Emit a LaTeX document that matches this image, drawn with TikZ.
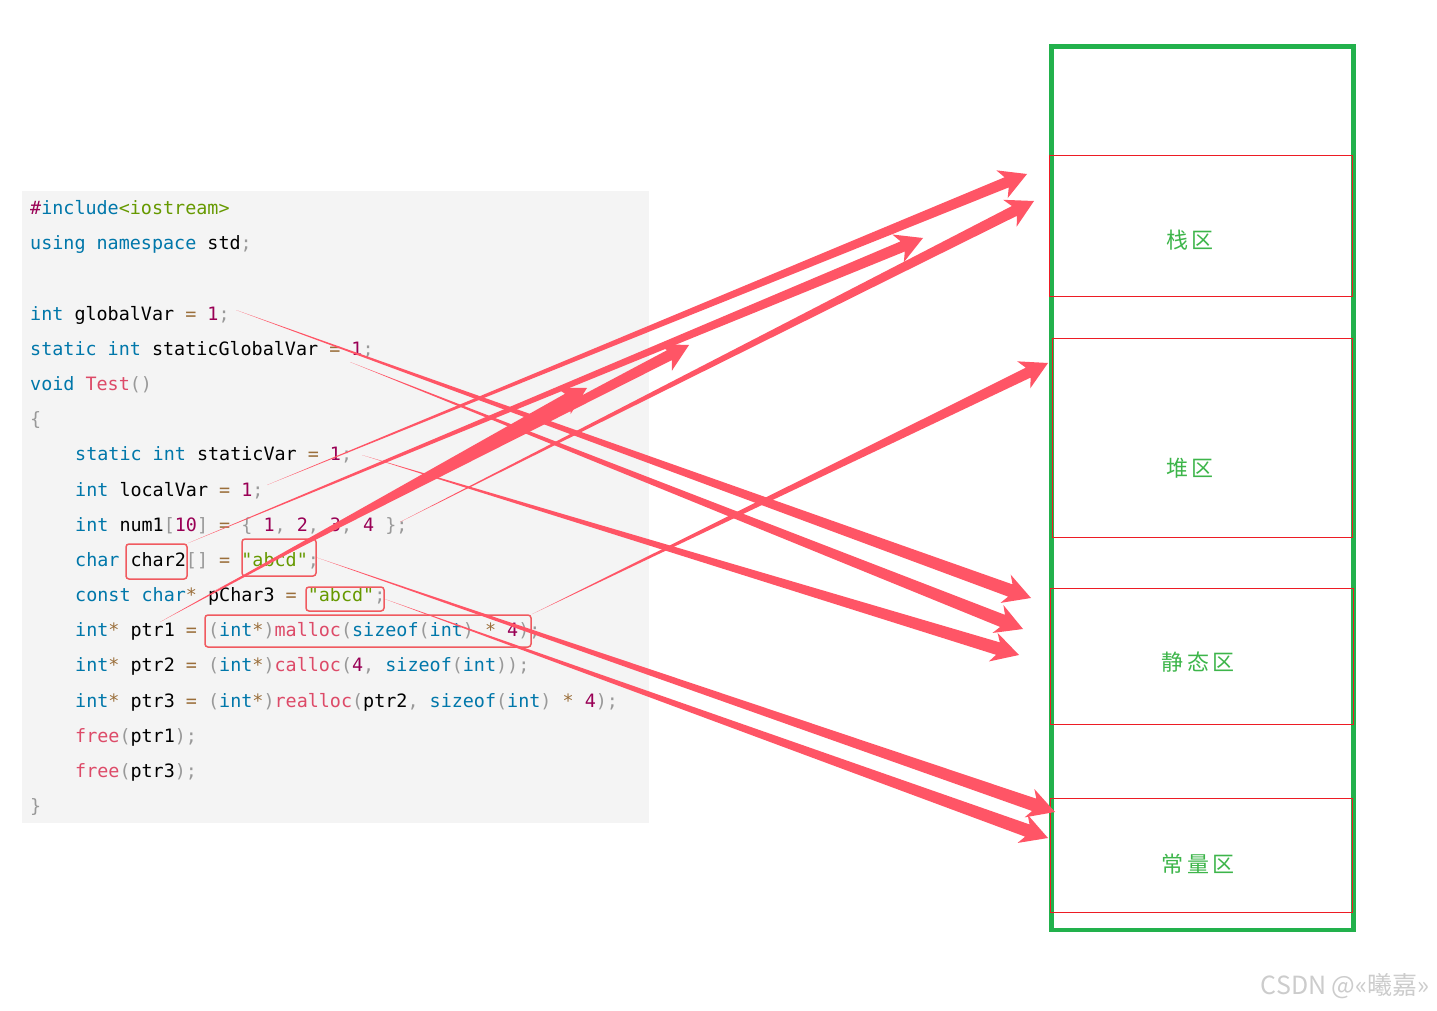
\documentclass[tikz,border=0pt]{standalone}
\usepackage{fontspec}
\setmonofont{DejaVu Sans Mono}
\newfontfamily\cjk{Noto Sans CJK SC}
\usetikzlibrary{calc, positioning}

\definecolor{kwblue}{HTML}{0077AA}
\definecolor{fnred}{HTML}{DD4A68}
\definecolor{numpurple}{HTML}{990055}
\definecolor{opbrown}{HTML}{9A6E3A}
\definecolor{pugray}{HTML}{999999}
\definecolor{strgreen}{HTML}{669900}
\definecolor{codebg}{HTML}{F4F4F4}
\definecolor{arrowred}{HTML}{FF5566}
\definecolor{boxred}{HTML}{F05A5F}
\definecolor{memgreen}{HTML}{22B14C}
\definecolor{linered}{HTML}{ED1C24}
\definecolor{labelgreen}{HTML}{3DB54A}

% 语法高亮
\newcommand{\ckw}[1]{\textcolor{kwblue}{#1}}
\newcommand{\cfn}[1]{\textcolor{fnred}{#1}}
\newcommand{\cnum}[1]{\textcolor{numpurple}{#1}}
\newcommand{\cop}[1]{\textcolor{opbrown}{#1}}
\newcommand{\cpu}[1]{\textcolor{pugray}{#1}}
\newcommand{\cstr}[1]{\textcolor{strgreen}{#1}}

% 渐粗箭头: [杆半宽]{起点}{终点}
\newcommand{\taper}[3][5.5pt]{%
  \coordinate (tn) at ($(#3)!22pt!(#2)$);
  \coordinate (tb) at ($(#3)!27pt!(#2)$);
  \fill[arrowred] (#2) -- ($(tn)!#1!90:(#3)$) -- ($(tb)!15pt!90:(#3)$) -- (#3)
    -- ($(tb)!15pt!-90:(#3)$) -- ($(tn)!#1!-90:(#3)$) -- cycle;
}

\begin{document}
\begin{tikzpicture}[x=1pt, y=-1pt,
    codeline/.style={anchor=base west, inner sep=0pt, font=\ttfamily\fontsize{18.4}{22}\selectfont},
    hlbox/.style={draw=boxred, line width=1.5pt, rounded corners=3pt, inner sep=0pt},
    memline/.style={draw=linered, line width=1pt},
    memlabel/.style={font=\cjk\fontsize{22}{26}\selectfont, text=labelgreen}]
    \useasboundingbox (0,0) rectangle (1437,1011);

    % 代码区
    \fill[codebg] (22,191) rectangle (649,823);
    \node[codeline] (l1) at (30,214.5) {\cnum{\#}\ckw{include}\cstr{<iostream>}};
    \node[codeline] (l2) at (30,249.7) {\ckw{using} \ckw{namespace} std\cpu{;}};
    \node[codeline] (l4) at (30,320) {\ckw{int} globalVar \cop{=} \cnum{1}\cpu{;}};
    \node[codeline] (l5) at (30,355.2) {\ckw{static} \ckw{int} staticGlobalVar \cop{=} \cnum{1}\cpu{;}};
    \node[codeline] (l6) at (30,390.4) {\ckw{void} \cfn{Test}\cpu{()}};
    \node[codeline] (l7) at (30,425.6) {\cpu{\{}};
    \node[codeline] (l8) at (75,460.8) {\ckw{static} \ckw{int} staticVar \cop{=} \cnum{1}\cpu{;}};
    \node[codeline] (l9) at (75,496) {\ckw{int} localVar \cop{=} \cnum{1}\cpu{;}};
    \node[codeline] (l10) at (75,531.1) {\ckw{int} num1\cpu{[}\cnum{10}\cpu{]} \cop{=} \cpu{\{} \cnum{1}\cpu{,} \cnum{2}\cpu{,} \cnum{3}\cpu{,} \cnum{4} \cpu{\};}};
    \node[codeline] (l11) at (75,566.3) {\ckw{char} char2\cpu{[]} \cop{=} \cstr{"abcd"}\cpu{;}};
    \node[codeline] (l12) at (75,601.5) {\ckw{const} \ckw{char}\cop{*} pChar3 \cop{=} \cstr{"abcd"}\cpu{;}};
    \node[codeline] (l13) at (75,636.7) {\ckw{int}\cop{*} ptr1 \cop{=} \cpu{(}\ckw{int}\cop{*}\cpu{)}\cfn{malloc}\cpu{(}\ckw{sizeof}\cpu{(}\ckw{int}\cpu{)} \cop{*} \cnum{4}\cpu{);}};
    \node[codeline] (l14) at (75,671.9) {\ckw{int}\cop{*} ptr2 \cop{=} \cpu{(}\ckw{int}\cop{*}\cpu{)}\cfn{calloc}\cpu{(}\cnum{4}\cpu{,} \ckw{sizeof}\cpu{(}\ckw{int}\cpu{));}};
    \node[codeline] (l15) at (75,707.1) {\ckw{int}\cop{*} ptr3 \cop{=} \cpu{(}\ckw{int}\cop{*}\cpu{)}\cfn{realloc}\cpu{(}ptr2\cpu{,} \ckw{sizeof}\cpu{(}\ckw{int}\cpu{)} \cop{*} \cnum{4}\cpu{);}};
    \node[codeline] (l16) at (75,742.3) {\cfn{free}\cpu{(}ptr1\cpu{);}};
    \node[codeline] (l17) at (75,777.5) {\cfn{free}\cpu{(}ptr3\cpu{);}};
    \node[codeline] (l18) at (30,812.6) {\cpu{\}}};

    % 标记框
    \node[hlbox, minimum width=61pt, minimum height=35pt] (bchar2) at (156.5,561.5) {};
    \node[hlbox, minimum width=74pt, minimum height=37pt] (babcd2) at (279,557.5) {};
    \node[hlbox, minimum width=78pt, minimum height=24pt] (babcd3) at (345,599) {};
    \node[hlbox, minimum width=326pt, minimum height=32pt] (bmalloc) at (368,631) {};

    % 内存分区
    \draw[memgreen, line width=4.5pt] (1051.5,46.5) rectangle (1353.5,930);
    \draw[memline] (1049.5,155.5) rectangle (1352.5,296.5);
    \draw[memline] (1052.5,338.5) rectangle (1352.5,537.5);
    \draw[memline] (1050,588.5) rectangle (1353,724);
    \draw[memline] (1050,798.5) rectangle (1352,912.5);
    \node[memlabel] (stack) at (1190,240) {栈\,区};
    \node[memlabel] (heap) at (1190,468) {堆\,区};
    \node[memlabel] (static) at (1198,662) {静\,态\,区};
    \node[memlabel] (const) at (1198,864) {常\,量\,区};

    % 箭头端点
    \coordinate (gvS) at (236,310);   \coordinate (gvE) at (1031,598);
    \coordinate (sgvS) at (350,362);  \coordinate (sgvE) at (1023,629);
    \coordinate (svS) at (362,455);   \coordinate (svE) at (1019,655);
    \coordinate (lvS) at (267,485);   \coordinate (lvE) at (1027,174);
    \coordinate (n1S) at (400,522);   \coordinate (n1E) at (1034,201);
    \coordinate (pc3S) at (212,592);  \coordinate (pc3E) at (689,345);
    \coordinate (p1S) at (160,622);   \coordinate (p1E) at (587,388);
    \coordinate (c2E) at (923,238);
    \coordinate (mlE) at (1048,363);
    \coordinate (ab2E) at (1055,812);
    \coordinate (ab3E) at (1048,838);

    % 箭头
    \taper[6.5pt]{gvS}{gvE}
    \taper[6.5pt]{sgvS}{sgvE}
    \taper[6.5pt]{svS}{svE}
    \taper{lvS}{lvE}
    \taper{bchar2.north east}{c2E}
    \taper{n1S}{n1E}
    \taper{pc3S}{pc3E}
    \taper{p1S}{p1E}
    \taper{bmalloc.north east}{mlE}
    \taper[6.5pt]{babcd2.east}{ab2E}
    \taper[6.5pt]{babcd3.east}{ab3E}

    % 水印
    \node[font=\cjk\fontsize{25}{29}\selectfont, text=black!20, anchor=east] (mark) at (1433,986) {CSDN @«曦嘉»};
\end{tikzpicture}
\end{document}
